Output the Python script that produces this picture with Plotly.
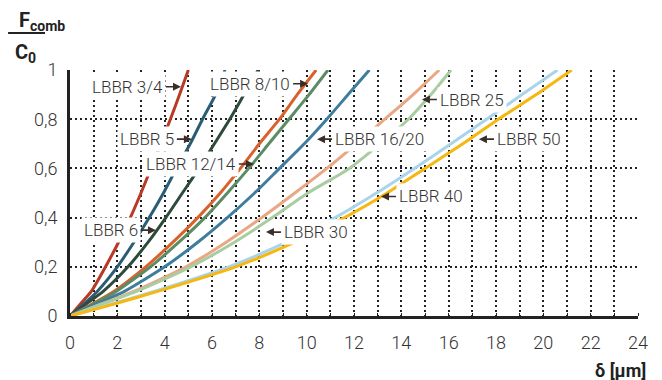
import plotly.graph_objects as go

force_levels = [0, 0.05, 0.1, 0.2, 0.3, 0.4, 0.5, 0.6, 0.7, 0.8, 0.9, 1.0]

# deflection delta [um] per bearing size, one value per force level
lbbr_3_4 = [0, 0.45, 0.9, 1.5, 2.05, 2.55, 3.0, 3.42, 3.84, 4.24, 4.63, 5.0]
lbbr_5 = [0, 0.6, 1.15, 2.0, 2.7, 3.35, 3.95, 4.5, 5.08, 5.6, 6.15, 6.55]
lbbr_6 = [0, 0.7, 1.4, 2.45, 3.3, 4.05, 4.75, 5.45, 6.1, 6.75, 7.35, 7.95]
lbbr_8_10 = [0, 0.95, 1.85, 3.2, 4.35, 5.4, 6.35, 7.2, 8.0, 8.85, 9.6, 10.4]
lbbr_12_14 = [0, 1.0, 1.95, 3.4, 4.6, 5.7, 6.65, 7.55, 8.4, 9.25, 10.1, 10.9]
lbbr_16_20 = [0, 1.15, 2.3, 4.0, 5.4, 6.65, 7.8, 8.85, 9.9, 10.85, 11.75, 12.65]
lbbr_25 = [0, 1.35, 2.7, 4.9, 6.6, 8.1, 9.5, 10.85, 12.1, 13.3, 14.5, 15.6]
lbbr_30 = [0, 1.4, 2.8, 5.1, 6.95, 8.55, 10.05, 11.8, 13.1, 14.3, 15.25, 16.1]
lbbr_40 = [0, 1.8, 3.55, 6.7, 9.15, 11.2, 12.95, 14.55, 16.1, 17.6, 19.1, 20.6]
lbbr_50 = [0, 1.9, 3.7, 7.0, 9.5, 11.6, 13.4, 15.0, 16.6, 18.1, 19.7, 21.2]

series = [
    ("LBBR 3/4", lbbr_3_4, "#b83a26"),
    ("LBBR 5", lbbr_5, "#2a5d74"),
    ("LBBR 6", lbbr_6, "#2d4b3b"),
    ("LBBR 8/10", lbbr_8_10, "#d9622c"),
    ("LBBR 12/14", lbbr_12_14, "#5c8c63"),
    ("LBBR 16/20", lbbr_16_20, "#3f7d9c"),
    ("LBBR 25", lbbr_25, "#eaa783"),
    ("LBBR 30", lbbr_30, "#a9cca0"),
    ("LBBR 40", lbbr_40, "#a9d4eb"),
    ("LBBR 50", lbbr_50, "#f6b710"),
]

# label name, arrow tip (delta, F), arrow direction
labels = [
    ("LBBR 3/4", 4.69, 0.932, "right"),
    ("LBBR 5", 5.15, 0.719, "right"),
    ("LBBR 12/14", 7.77, 0.618, "right"),
    ("LBBR 8/10", 10.06, 0.944, "right"),
    ("LBBR 6", 3.63, 0.349, "right"),
    ("LBBR 16/20", 10.44, 0.719, "left"),
    ("LBBR 25", 14.87, 0.88, "left"),
    ("LBBR 50", 17.28, 0.719, "left"),
    ("LBBR 40", 13.14, 0.486, "left"),
    ("LBBR 30", 8.28, 0.341, "left"),
]

x_ticks = list(range(0, 25, 2))
y_ticks = [0, 0.2, 0.4, 0.6, 0.8, 1.0]
y_ticktext = ["0", "0,2", "0,4", "0,6", "0,8", "1"]

fig = go.Figure()
for name, delta, color in series:
    fig.add_trace(go.Scatter(
        x=delta, y=force_levels, mode="lines", name=name,
        line=dict(color=color, width=3, shape="spline", smoothing=0.6),
        showlegend=False,
    ))

for text, x, y, side in labels:
    fig.add_annotation(
        x=x, y=y, text=text, showarrow=True,
        ax=-15 if side == "right" else 15, ay=0,
        xanchor="right" if side == "right" else "left", yanchor="middle",
        arrowhead=2, arrowsize=1, arrowwidth=1.6, arrowcolor="#3a2e2b",
        bgcolor="white", borderpad=2,
        font=dict(size=17, color="#333333", weight=300),
    )

# y axis title as a fraction, top left
fig.add_annotation(xref="paper", yref="paper", x=-0.05, y=1.2,
                   xanchor="center", yanchor="middle",
                   text="<b>F<sub>comb</sub></b>", showarrow=False,
                   font=dict(size=20, color="#222222"))
fig.add_annotation(xref="paper", yref="paper", x=-0.078, y=1.07,
                   xanchor="center", yanchor="middle",
                   text="<b>C<sub>0</sub></b>", showarrow=False,
                   font=dict(size=20, color="#222222"))
fig.add_shape(type="line", xref="paper", yref="paper",
              x0=-0.109, x1=-0.044, y0=1.15, y1=1.15,
              line=dict(color="#222222", width=2))
fig.add_annotation(xref="paper", yref="paper", x=1.018, y=-0.22,
                   xanchor="right", yanchor="middle",
                   text="<b>δ [µm]</b>", showarrow=False,
                   font=dict(size=18, color="#222222"))

grid = dict(showgrid=True, gridcolor="#222222", gridwidth=1.5, griddash="2px,3px")

# the page adds an 8px body margin, so the figure is 8px smaller
fig.update_layout(
    width=654, height=372,
    margin=dict(l=62, r=24, t=62, b=64),
    paper_bgcolor="white", plot_bgcolor="white",
    font=dict(family="Roboto, Liberation Sans, sans-serif", color="#333333"),
    xaxis=dict(
        range=[0, 24], tickvals=x_ticks, ticks="", zeroline=False,
        showline=True, linecolor="#222222", linewidth=3,
        tickfont=dict(size=18, weight=300), ticklabelstandoff=8,
        minor=dict(dtick=1, ticks="inside", ticklen=3, tickcolor="#222222",
                   showgrid=True, gridcolor="#222222", gridwidth=1.5, griddash="2px,3px"),
        **grid,
    ),
    yaxis=dict(
        range=[0, 1], tickvals=y_ticks, ticktext=y_ticktext, ticks="",
        zeroline=False, showline=True, linecolor="#222222", linewidth=3,
        tickfont=dict(size=18, weight=300), ticklabelstandoff=6,
        **grid,
    ),
)

fig.write_html("out.html")
